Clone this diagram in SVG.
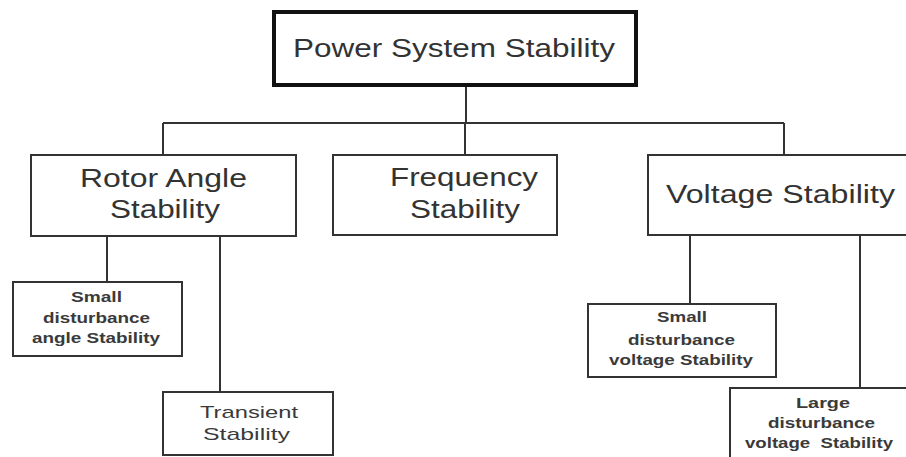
<svg xmlns="http://www.w3.org/2000/svg" width="906" height="457" viewBox="0 0 906 457">
<style>
.box{fill:#fff;stroke:#333;stroke-width:2}
.top{fill:#fff;stroke:#111;stroke-width:4}
.ln{stroke:#333;stroke-width:2;fill:none}
.t{font-family:"Liberation Sans",Arial,sans-serif;fill:#333;text-anchor:start}
.big{font-size:26px}
.sm{font-size:15px;font-weight:bold;fill:#3a3a3a}
</style>
<rect width="906" height="457" fill="#fff"/>
<g id="connectors">
<path class="ln" d="M466 85V123M163 123H784M163 123V155M465 123V155M784 123V155"/>
<path class="ln" d="M107 236V282M220 236V392"/>
<path class="ln" d="M690 235V304M860 235V388"/>
</g>
<g id="power">
<rect class="top" x="274" y="12" width="362" height="73"/>
<text class="t big" x="293" y="57" textLength="322" lengthAdjust="spacingAndGlyphs" font-size="29">Power System Stability</text>
</g>
<g id="rotor">
<rect class="box" x="31" y="155" width="265" height="81"/>
<text class="t big" x="80" y="187" textLength="167" lengthAdjust="spacingAndGlyphs">Rotor Angle</text>
<text class="t big" x="110" y="218" textLength="110" lengthAdjust="spacingAndGlyphs">Stability</text>
</g>
<g id="frequency">
<rect class="box" x="333" y="155" width="224" height="80"/>
<text class="t big" x="390" y="186" textLength="148" lengthAdjust="spacingAndGlyphs">Frequency</text>
<text class="t big" x="410" y="218" textLength="110" lengthAdjust="spacingAndGlyphs">Stability</text>
</g>
<g id="voltage">
<rect class="box" x="648" y="155" width="262" height="80"/>
<text class="t big" x="666" y="203" textLength="229" lengthAdjust="spacingAndGlyphs">Voltage Stability</text>
</g>
<g id="small-angle">
<rect class="box" x="13" y="282" width="169" height="74"/>
<text class="t sm" x="71" y="302" textLength="51" lengthAdjust="spacingAndGlyphs">Small</text>
<text class="t sm" x="43" y="323" textLength="107" lengthAdjust="spacingAndGlyphs">disturbance</text>
<text class="t sm" x="32" y="343" textLength="128" lengthAdjust="spacingAndGlyphs">angle Stability</text>
</g>
<g id="transient">
<rect class="box" x="163" y="392" width="170" height="63"/>
<text class="t sm" x="200" y="418" textLength="98" lengthAdjust="spacingAndGlyphs" font-size="17" font-weight="normal" style="font-weight:normal;font-size:17px">Transient</text>
<text class="t sm" x="203" y="440" textLength="87" lengthAdjust="spacingAndGlyphs" style="font-weight:normal;font-size:17px">Stability</text>
</g>
<g id="small-voltage">
<rect class="box" x="588" y="304" width="188" height="73"/>
<text class="t sm" x="657" y="322" textLength="50" lengthAdjust="spacingAndGlyphs">Small</text>
<text class="t sm" x="628" y="345" textLength="107" lengthAdjust="spacingAndGlyphs">disturbance</text>
<text class="t sm" x="609" y="365" textLength="144" lengthAdjust="spacingAndGlyphs">voltage Stability</text>
</g>
<g id="large-voltage">
<rect class="box" x="730" y="388" width="180" height="80"/>
<text class="t sm" x="796" y="408" textLength="54" lengthAdjust="spacingAndGlyphs">Large</text>
<text class="t sm" x="768" y="428" textLength="107" lengthAdjust="spacingAndGlyphs">disturbance</text>
<text class="t sm" x="745" y="448" textLength="148" lengthAdjust="spacingAndGlyphs" xml:space="preserve">voltage  Stability</text>
</g>
</svg>
